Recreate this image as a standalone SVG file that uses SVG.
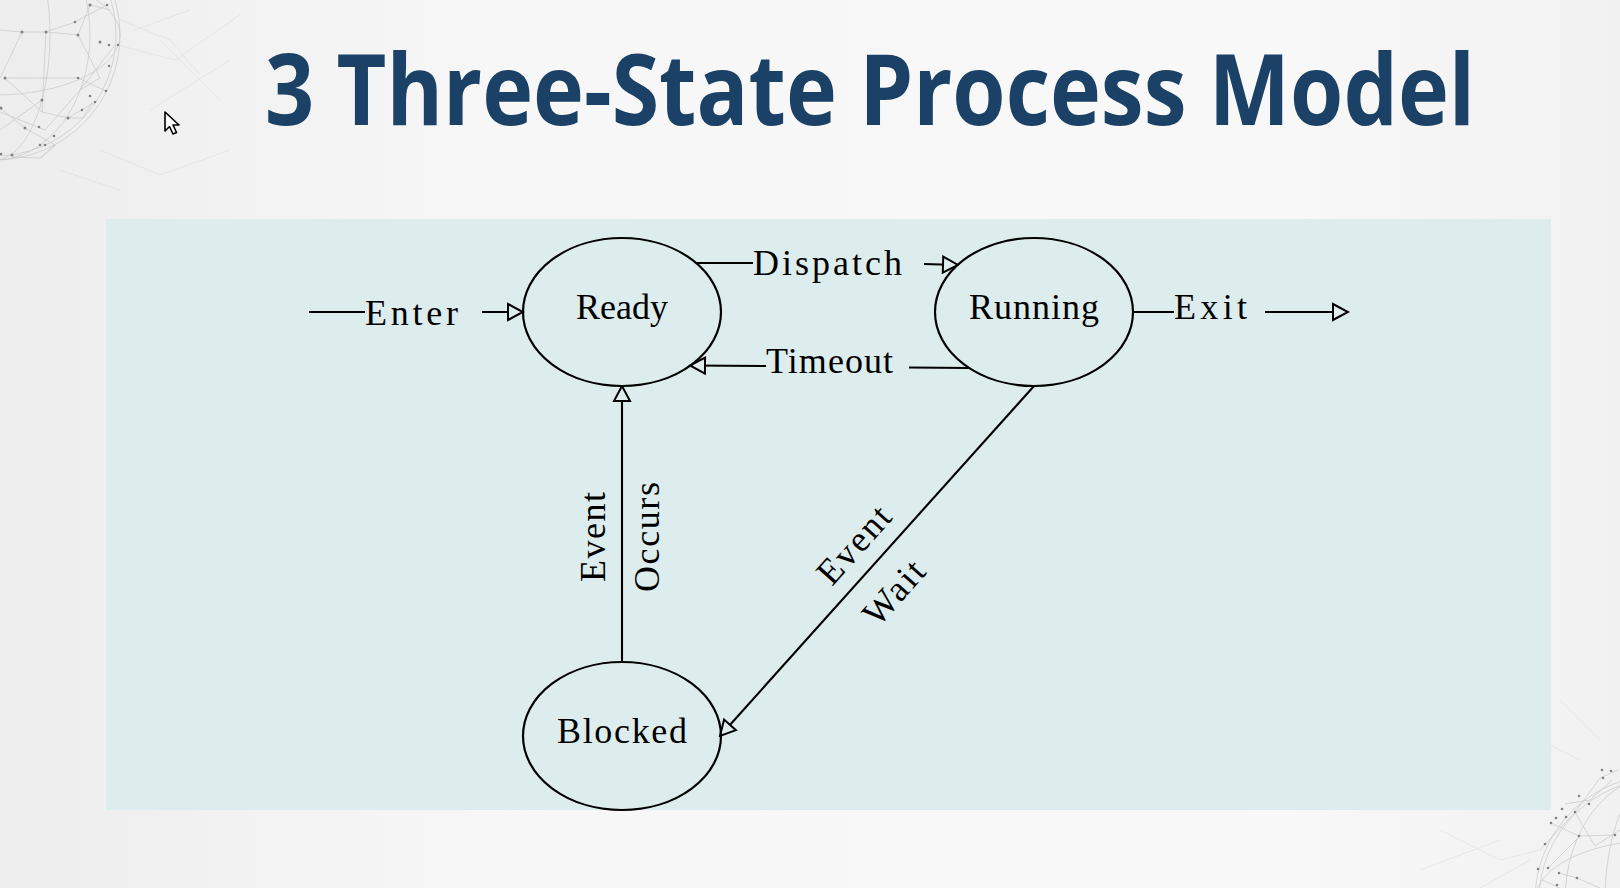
<svg xmlns="http://www.w3.org/2000/svg" width="1620" height="888" viewBox="0 0 1620 888">
  <defs>
    <linearGradient id="bg" x1="0" y1="0" x2="1" y2="0">
      <stop offset="0" stop-color="#ededed"/>
      <stop offset="0.3" stop-color="#f7f7f7"/>
      <stop offset="0.8" stop-color="#f8f8f8"/>
      <stop offset="1" stop-color="#f1f1f1"/>
    </linearGradient>
    <marker id="arr" viewBox="0 0 18 20" refX="16.5" refY="10" markerWidth="18" markerHeight="20" markerUnits="userSpaceOnUse" orient="auto">
      <path d="M1.5,2 L16.5,10 L1.5,18 Z" fill="#ddecec" stroke="#000" stroke-width="2" stroke-linejoin="miter"/>
    </marker>
    <style>
      .lbl { font-family: "Liberation Serif", "DejaVu Serif", serif; font-size: 36px; fill: #000; }
      .st { fill: none; stroke: #000; stroke-width: 2.2; }
      .cn { fill: none; stroke: #000; stroke-width: 2.1; }
      .deco { fill: none; stroke: #c9c9c9; stroke-width: 0.8; }
      .deco2 { fill: none; stroke: #e2e2e2; stroke-width: 0.8; }
      .dot { fill: #777; }
    </style>
  </defs>

  <rect x="0" y="0" width="1620" height="888" fill="url(#bg)"/>

  <!-- decorative network spheres -->
  <g id="deco-tl" opacity="0.9">
    <circle class="deco" cx="-5" cy="35" r="125"/>
    <circle class="deco" cx="-5" cy="35" r="121"/>
    <ellipse class="deco" cx="-5" cy="35" rx="95" ry="125"/>
    <ellipse class="deco" cx="-5" cy="35" rx="55" ry="125"/>
    <ellipse class="deco" cx="-5" cy="35" rx="125" ry="60"/>
    <path class="deco" d="M-5,110 L45,130 L80,90 L115,45 M90,5 L78,35 L100,78 L80,90 M22,32 L46,32 L78,35 M5,78 L42,112 L68,118 L95,102 M0,108 L25,128 L55,145 L40,158 M46,32 L42,112 M22,32 L0,78 M90,5 L110,10 M12,157 L40,158 L56,145 M68,118 L83,118 L92,102 M0,30 L22,32 M5,78 L78,78 L106,91 M46,32 L75,22 L107,5 M0,130 L42,100"/>
    <path class="deco2" d="M120,20 L170,40 L200,75 M135,30 L190,10 M150,110 L230,60 M118,45 L175,60 L240,15 M100,150 L160,175 L230,150 M60,170 L120,190 M160,40 L220,100"/>
    <circle class="dot" cx="22" cy="32" r="1.5"/><circle class="dot" cx="46" cy="32" r="1.5"/>
    <circle class="dot" cx="78" cy="35" r="1.5"/><circle class="dot" cx="100" cy="42" r="1.5"/>
    <circle class="dot" cx="109" cy="45" r="1.3"/><circle class="dot" cx="90" cy="5" r="1.5"/>
    <circle class="dot" cx="107" cy="5" r="1.3"/><circle class="dot" cx="75" cy="22" r="1.3"/>
    <circle class="dot" cx="5" cy="78" r="1.5"/><circle class="dot" cx="78" cy="78" r="1.3"/>
    <circle class="dot" cx="42" cy="100" r="1.5"/><circle class="dot" cx="90" cy="96" r="1.3"/>
    <circle class="dot" cx="95" cy="102" r="1.3"/><circle class="dot" cx="82" cy="110" r="1.3"/>
    <circle class="dot" cx="68" cy="118" r="1.5"/><circle class="dot" cx="25" cy="128" r="1.5"/>
    <circle class="dot" cx="39" cy="127" r="1.3"/><circle class="dot" cx="54" cy="136" r="1.3"/>
    <circle class="dot" cx="40" cy="145" r="1.3"/><circle class="dot" cx="45" cy="145" r="1.3"/>
    <circle class="dot" cx="12" cy="155" r="1.5"/><circle class="dot" cx="1" cy="154" r="1.3"/>
    <circle class="dot" cx="1" cy="108" r="1.5"/><circle class="dot" cx="106" cy="91" r="1.3"/>
    <circle class="dot" cx="118" cy="45" r="1.2"/><circle class="dot" cx="109" cy="66" r="1.2"/>
  </g>
  <g id="deco-br" opacity="0.9">
    <circle class="deco" cx="1660" cy="900" r="125"/>
    <circle class="deco" cx="1660" cy="900" r="121"/>
    <ellipse class="deco" cx="1660" cy="900" rx="95" ry="125"/>
    <ellipse class="deco" cx="1660" cy="900" rx="55" ry="125"/>
    <ellipse class="deco" cx="1660" cy="900" rx="125" ry="60"/>
    <path class="deco" d="M1540,850 L1575,812 L1600,778 L1618,770 M1548,868 L1580,836 L1615,835 M1542,880 L1560,888 M1575,812 L1595,846 L1620,830 M1565,804 L1590,800 L1612,780 M1551,823 L1579,836 M1559,873 L1577,878 L1600,888"/>
    <path class="deco2" d="M1440,830 L1500,860 L1540,850 M1460,760 L1520,790 M1500,720 L1580,760 M1420,870 L1500,840 M1560,700 L1600,740 M1480,888 L1530,860"/>
    <circle class="dot" cx="1602" cy="770" r="1.3"/><circle class="dot" cx="1611" cy="771" r="1.3"/>
    <circle class="dot" cx="1603" cy="778" r="1.3"/><circle class="dot" cx="1579" cy="796" r="1.3"/>
    <circle class="dot" cx="1589" cy="804" r="1.3"/><circle class="dot" cx="1575" cy="812" r="1.3"/>
    <circle class="dot" cx="1562" cy="809" r="1.3"/><circle class="dot" cx="1566" cy="817" r="1.3"/>
    <circle class="dot" cx="1556" cy="818" r="1.3"/><circle class="dot" cx="1551" cy="823" r="1.3"/>
    <circle class="dot" cx="1545" cy="844" r="1.3"/><circle class="dot" cx="1579" cy="836" r="1.3"/>
    <circle class="dot" cx="1615" cy="835" r="1.3"/><circle class="dot" cx="1548" cy="868" r="1.3"/>
    <circle class="dot" cx="1559" cy="873" r="1.3"/><circle class="dot" cx="1538" cy="869" r="1.3"/>
    <circle class="dot" cx="1577" cy="878" r="1.3"/><circle class="dot" cx="1557" cy="885" r="1.3"/>
  </g>

  <!-- cursor -->
  <path id="cursor" d="M165,112 L165,131 L169.5,126.5 L173,134 L176.5,132.5 L173,125 L179,125 Z" fill="#fff" stroke="#000" stroke-width="1.6" stroke-linejoin="round"/>

  <!-- title -->
  <g id="title" transform="translate(870,125) scale(0.879,1)">
    <text x="0" y="0" text-anchor="middle" font-family="'Open Sans', 'Noto Sans', 'Liberation Sans', sans-serif" font-weight="bold" font-size="98" fill="#1b4166">3 Three-State Process Model</text>
  </g>

  <!-- panel -->
  <rect id="panel" x="106" y="219" width="1445" height="591" fill="#ddecec"/>

  <!-- connectors -->
  <g id="connectors">
    <line class="cn" x1="309" y1="312" x2="365" y2="312"/>
    <line class="cn" x1="482" y1="312" x2="523" y2="312" marker-end="url(#arr)"/>
    <line class="cn" x1="696" y1="263" x2="753" y2="263"/>
    <line class="cn" x1="924" y1="264" x2="958" y2="265" marker-end="url(#arr)"/>
    <line class="cn" x1="970" y1="368" x2="909" y2="367.5"/>
    <line class="cn" x1="766" y1="366" x2="690" y2="365.5" marker-end="url(#arr)"/>
    <line class="cn" x1="1133" y1="312" x2="1174" y2="312"/>
    <line class="cn" x1="1265" y1="312" x2="1348" y2="312" marker-end="url(#arr)"/>
    <line class="cn" x1="622" y1="662" x2="622" y2="386" marker-end="url(#arr)"/>
    <line class="cn" x1="1034" y1="386" x2="720" y2="736" marker-end="url(#arr)"/>
  </g>

  <!-- connector labels -->
  <g id="labels">
    <text class="lbl" x="365" y="325" textLength="93">Enter</text>
    <text class="lbl" x="753" y="275" textLength="149">Dispatch</text>
    <text class="lbl" x="766" y="373" textLength="127">Timeout</text>
    <text class="lbl" x="1174" y="319" textLength="73">Exit</text>
    <text class="lbl" transform="translate(605,582) rotate(-90)" textLength="90">Event</text>
    <text class="lbl" transform="translate(659,592) rotate(-90)" textLength="110">Occurs</text>
    <text class="lbl" transform="translate(832,587) rotate(-48.1)" textLength="92">Event</text>
    <text class="lbl" transform="translate(878,628) rotate(-48.1)" textLength="74">Wait</text>
  </g>

  <!-- nodes -->
  <g id="node-ready">
    <ellipse class="st" cx="622" cy="312" rx="99" ry="74"/>
    <text class="lbl" x="576" y="319" textLength="92">Ready</text>
  </g>
  <g id="node-running">
    <ellipse class="st" cx="1034" cy="312" rx="99" ry="74"/>
    <text class="lbl" x="969" y="319" textLength="130">Running</text>
  </g>
  <g id="node-blocked">
    <ellipse class="st" cx="622" cy="736" rx="99" ry="74"/>
    <text class="lbl" x="557" y="743" textLength="130">Blocked</text>
  </g>
</svg>
